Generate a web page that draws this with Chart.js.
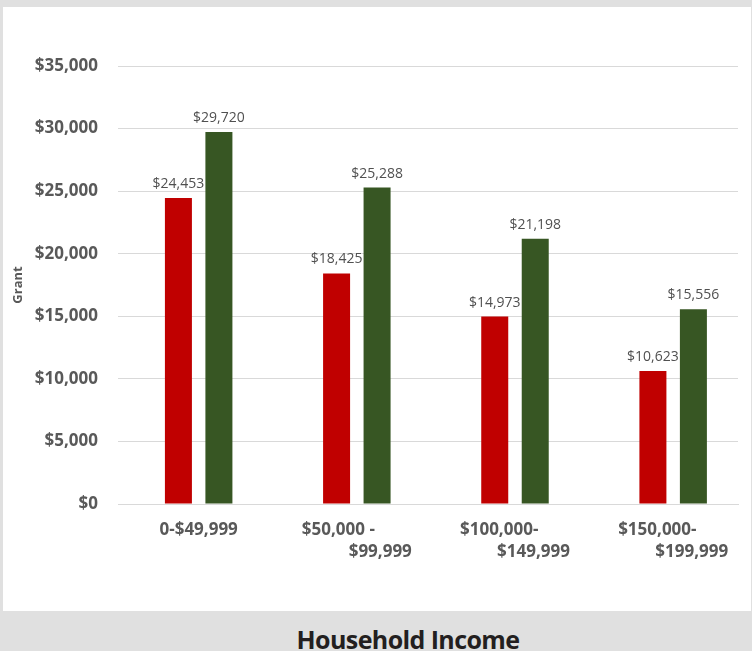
<!DOCTYPE html>
<html lang="en">
<head>
    <meta charset="UTF-8">
    <title>Grant by Household Income</title>
    <script src="https://cdn.jsdelivr.net/npm/chart.js"></script>
    <style>
        body { margin: 0; padding: 0; width: 752px; height: 651px; overflow: hidden; background: #e0e0e0; position: relative; }
        #panel { position: absolute; left: 3px; top: 7px; width: 748px; height: 604px; background: #fff; }
        #title {
            position: absolute; left: 408px; top: 619px; transform: translateX(-50%);
            font: bold 25px "Open Sans", sans-serif; line-height: 40px; color: #231f20;
            letter-spacing: -0.6px; white-space: nowrap;
        }
    </style>
</head>
<body>

<div id="panel">
    <canvas id="grantChart" width="748" height="604"></canvas>
</div>
<div id="title">Household Income</div>

<script>
    // chart values
    const categories = [['0-$49,999'], ['$50,000 -', '$99,999'], ['$100,000-', '$149,999'], ['$150,000-', '$199,999']];
    const redValues = [24453, 18425, 14973, 10623];
    const greenValues = [29720, 25288, 21198, 15556];
    const yMax = 35000;
    const yStep = 5000;

    const money = v => '$' + v.toLocaleString('en-US');

    // value labels above each bar
    const valueLabels = {
        id: 'valueLabels',
        afterDatasetsDraw(chart) {
            const ctx = chart.ctx;
            ctx.save();
            ctx.font = '14px "Open Sans"';
            ctx.fillStyle = '#505050';
            ctx.textAlign = 'center';
            ctx.textBaseline = 'alphabetic';
            chart.data.datasets.forEach((ds, di) => {
                chart.getDatasetMeta(di).data.forEach((bar, i) => {
                    ctx.fillText(money(ds.data[i].y), bar.x, bar.y - 10);
                });
            });
            ctx.restore();
        }
    };

    // wrapped category labels: first line flush left, second flush right
    const categoryLabels = {
        id: 'categoryLabels',
        afterDraw(chart) {
            const ctx = chart.ctx;
            const s = chart.scales.x;
            const base = chart.chartArea.bottom;
            const half = 55;
            ctx.save();
            ctx.font = 'bold 17px "Open Sans"';
            ctx.fillStyle = '#595959';
            ctx.textBaseline = 'middle';
            categories.forEach((lines, i) => {
                const cx = s.getPixelForValue(i);
                if (lines.length === 1) {
                    ctx.textAlign = 'center';
                    ctx.fillText(lines[0], cx, base + 26);
                    return;
                }
                ctx.textAlign = 'left';
                ctx.fillText(lines[0], cx - half, base + 26);
                ctx.textAlign = 'right';
                ctx.fillText(lines[1], cx + half, base + 48);
            });
            ctx.restore();
        }
    };

    const ctx = document.getElementById('grantChart').getContext('2d');
    const grantChart = new Chart(ctx, {
        type: 'bar',
        data: {
            datasets: [{
                label: 'Series 1',
                data: redValues.map((v, i) => ({ x: i, y: v })),
                backgroundColor: '#c00000'
            }, {
                label: 'Series 2',
                data: greenValues.map((v, i) => ({ x: i, y: v })),
                backgroundColor: '#375623'
            }]
        },
        options: {
            responsive: false,
            animation: false,
            categoryPercentage: 0.512,
            barPercentage: 0.667,
            layout: { padding: { top: 59, right: 13, bottom: 107, left: 0 } },
            plugins: {
                legend: { display: false },
                tooltip: { enabled: false }
            },
            scales: {
                x: {
                    type: 'linear',
                    offset: false,
                    min: -0.51,
                    max: 3.41,
                    afterBuildTicks(scale) { scale.ticks = categories.map((c, i) => ({ value: i })); },
                    grid: { display: false, drawTicks: false },
                    border: { display: true, color: '#d9d9d9' },
                    ticks: { display: false }
                },
                y: {
                    min: 0,
                    max: yMax,
                    afterFit(scale) { scale.width = 115; },
                    grid: { color: '#d9d9d9', drawTicks: false },
                    border: { display: false },
                    ticks: {
                        stepSize: yStep,
                        padding: 20,
                        color: '#595959',
                        font: { family: 'Open Sans', size: 17, weight: 'bold' },
                        callback: v => money(v)
                    },
                    title: {
                        display: true,
                        text: 'Grant',
                        color: '#595959',
                        font: { family: 'Open Sans', size: 13, weight: 'bold' },
                        padding: { top: 7, bottom: 0 }
                    }
                }
            }
        },
        plugins: [valueLabels, categoryLabels]
    });
</script>

</body>
</html>
